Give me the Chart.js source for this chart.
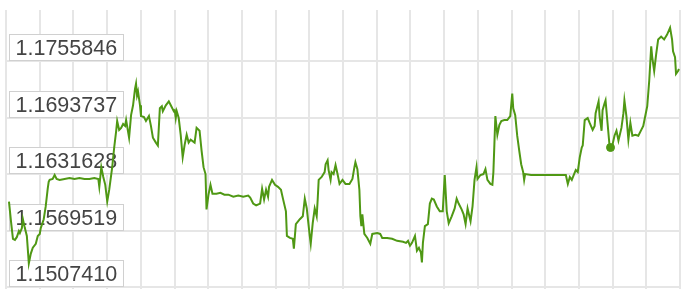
<!DOCTYPE html>
<html>
<head>
<meta charset="utf-8">
<script src="https://cdn.jsdelivr.net/npm/chart.js@4"></script>
<style>
  html, body { margin: 0; padding: 0; background: #fff; }
  #wrap { width: 685px; height: 294px; position: relative; }
</style>
</head>
<body>
<div id="wrap"><canvas id="chart"></canvas></div>
<script>
// price levels shown on the left
const yLabels = [1.1507410, 1.1569519, 1.1631628, 1.1693737, 1.1755846];

// time index (20 columns of 33.95) and price
const times = [
  3, 5, 7, 9, 11, 13, 14, 16, 17, 19,
  21, 23, 25, 27, 30, 32, 34, 35, 38, 40,
  42, 43, 44, 47, 49, 51, 54, 59, 64, 69,
  74, 79, 84, 89, 93, 94, 96, 98, 100, 102,
  104, 107, 109, 111, 112, 114, 116, 118, 120, 121,
  124, 126, 128, 130, 131, 132, 133, 135, 136, 139,
  141, 144, 146, 148, 151, 153, 155, 157, 158, 161,
  164, 166, 169, 170, 171, 172, 174, 176, 178, 180,
  182, 184, 186, 190, 192, 195, 197, 199, 201, 202,
  204, 206, 208, 212, 216, 220, 224, 229, 234, 239,
  244, 246, 249, 252, 256, 258, 260, 262, 264, 265,
  268, 271, 274, 277, 279, 282, 283, 286, 289, 290,
  292, 296, 299, 301, 303, 306, 307, 309, 311, 313,
  314, 315, 318, 321, 322, 324, 325, 327, 328, 330,
  332, 334, 336, 339, 342, 346, 349, 351, 352, 354,
  356, 357, 358, 359, 361, 364, 367, 369, 374, 377,
  379, 384, 389, 394, 400, 403, 405, 407, 409, 412,
  414, 416, 418, 419, 420, 422, 425, 427, 429, 431,
  434, 437, 440, 442, 444, 446, 449, 452, 454, 456,
  459, 461, 463, 465, 468, 470, 472, 474, 475, 478,
  481, 483, 485, 488, 490, 491, 492, 493, 495, 497,
  499, 502, 505, 508, 510, 511, 513, 515, 517, 519,
  521, 522, 523, 529, 539, 549, 559, 564, 566, 568,
  570, 572, 574, 576, 578, 580, 581, 583, 586, 588,
  591, 593, 594, 597, 598, 600, 601, 603, 604, 606,
  608, 609, 611, 613, 615, 617, 620, 622, 623, 625,
  627, 629, 631, 634, 637, 640, 642, 644, 646, 648,
  650, 651, 653, 655, 657, 660, 663, 666, 669, 671,
  672, 674, 675, 677, 678
];

const prices = [
  1.16014, 1.15798, 1.15604, 1.15593, 1.15625, 1.15690, 1.15668, 1.15722, 1.15820, 1.15722,
  1.15636, 1.15334, 1.15442, 1.15506, 1.15550, 1.15636, 1.15658, 1.15722, 1.15820, 1.15960,
  1.16154, 1.16230, 1.16252, 1.16262, 1.16306, 1.16262, 1.16252, 1.16262, 1.16273, 1.16262,
  1.16273, 1.16262, 1.16262, 1.16273, 1.16262, 1.16176, 1.16392, 1.16284, 1.16198, 1.16014,
  1.16144, 1.16392, 1.16608, 1.16792, 1.16900, 1.16802, 1.16824, 1.16867, 1.16846, 1.16910,
  1.16716, 1.16964, 1.17072, 1.17256, 1.17310, 1.17180, 1.17224, 1.17072, 1.16954, 1.16943,
  1.16900, 1.16954, 1.16846, 1.16716, 1.16662, 1.16630, 1.17040, 1.17062, 1.17008, 1.17072,
  1.17116, 1.17072, 1.17008, 1.17018, 1.16932, 1.17008, 1.16932, 1.16748, 1.16500, 1.16640,
  1.16748, 1.16662, 1.16694, 1.16662, 1.16824, 1.16792, 1.16576, 1.16392, 1.16316, 1.15928,
  1.16090, 1.16198, 1.16100, 1.16100, 1.16111, 1.16090, 1.16090, 1.16068, 1.16079, 1.16068,
  1.16079, 1.16057, 1.15992, 1.15971, 1.15992, 1.16154, 1.16036, 1.16144, 1.16068, 1.16176,
  1.16252, 1.16198, 1.16176, 1.16144, 1.16046, 1.15906, 1.15636, 1.15614, 1.15604, 1.15496,
  1.15766, 1.15820, 1.15852, 1.16046, 1.15938, 1.15636, 1.15550, 1.15776, 1.15938, 1.15852,
  1.16036, 1.16252, 1.16284, 1.16338, 1.16424, 1.16468, 1.16360, 1.16252, 1.16338, 1.16316,
  1.16414, 1.16316, 1.16208, 1.16252, 1.16208, 1.16208, 1.16262, 1.16392, 1.16446, 1.16370,
  1.16144, 1.15852, 1.15744, 1.15874, 1.15658, 1.15614, 1.15550, 1.15658, 1.15668, 1.15658,
  1.15614, 1.15614, 1.15604, 1.15582, 1.15571, 1.15560, 1.15582, 1.15528, 1.15560, 1.15636,
  1.15474, 1.15506, 1.15452, 1.15344, 1.15560, 1.15744, 1.15766, 1.15992, 1.16046, 1.16036,
  1.15960, 1.15906, 1.15906, 1.16306, 1.15906, 1.15776, 1.15852, 1.15938, 1.16046, 1.15992,
  1.15928, 1.15874, 1.15766, 1.15938, 1.15798, 1.15960, 1.16252, 1.16392, 1.16262, 1.16306,
  1.16316, 1.16370, 1.16252, 1.16208, 1.16198, 1.16338, 1.16640, 1.16954, 1.16748, 1.16856,
  1.16900, 1.16910, 1.16910, 1.16954, 1.17202, 1.17040, 1.16964, 1.16738, 1.16576, 1.16424,
  1.16338, 1.16252, 1.16316, 1.16306, 1.16306, 1.16306, 1.16306, 1.16306, 1.16208, 1.16284,
  1.16252, 1.16306, 1.16360, 1.16338, 1.16500, 1.16608, 1.16630, 1.16910, 1.16932, 1.16878,
  1.16802, 1.16846, 1.16986, 1.17116, 1.16954, 1.16792, 1.17018, 1.17094, 1.17126, 1.16878,
  1.16630, 1.16608, 1.16640, 1.16738, 1.16792, 1.16684, 1.16824, 1.16986, 1.17126, 1.16954,
  1.16694, 1.16878, 1.16738, 1.16748, 1.16738, 1.16802, 1.16846, 1.16954, 1.17062, 1.17342,
  1.17720, 1.17602, 1.17450, 1.17634, 1.17796, 1.17828, 1.17796, 1.17850, 1.17926, 1.17796,
  1.17666, 1.17602, 1.17418, 1.17450, 1.17472
];

// the highlighted point
const markTime = [609];
const markPrice = [1.16608];

const green = '#4f9814';
const step = 33.95;

let series = [];
for (let i = 0; i < times.length; i++)
  series.push({ x: times[i], y: prices[i] });

// white boxes with the price levels, under the line
const levelBoxes = {
  id: 'levelBoxes',
  beforeDatasetsDraw(chart) {
    const ctx = chart.ctx;
    const y = chart.scales.y;
    ctx.save();
    ctx.font = '21.5px "Liberation Sans", Arial, sans-serif';
    ctx.textBaseline = 'alphabetic';
    ctx.lineWidth = 1;
    for (const v of yLabels) {
      const py = Math.round(y.getPixelForValue(v));
      ctx.fillStyle = '#fff';
      ctx.fillRect(9.5, py - 26.5, 114, 26);
      ctx.strokeStyle = '#d0d0d0';
      ctx.strokeRect(9.5, py - 26.5, 114, 26);
      ctx.fillStyle = '#444';
      ctx.fillText(v.toFixed(7), 15.5, py - 6);
    }
    ctx.restore();
  }
};

new Chart(document.getElementById('chart'), {
  type: 'line',
  data: {
    datasets: [
      {
        data: series,
        borderColor: green,
        borderWidth: 2,
        pointRadius: 0,
        tension: 0,
        fill: false
      },
      {
        type: 'scatter',
        data: markTime.map((t, i) => ({ x: t, y: markPrice[i] })),
        backgroundColor: green,
        borderColor: green,
        pointRadius: 4
      }
    ]
  },
  options: {
    responsive: true,
    maintainAspectRatio: false,
    animation: false,
    layout: { padding: { left: 6, top: 10, right: 0, bottom: 0 } },
    plugins: { legend: { display: false }, tooltip: { enabled: false } },
    scales: {
      x: {
        type: 'linear',
        min: 0,
        max: 679,
        afterBuildTicks: (s) => {
          s.ticks = [];
          for (let k = 0; k <= 20; k++) s.ticks.push({ value: k * step });
        },
        ticks: { display: false },
        grid: { color: '#e6e6e6', lineWidth: 2, drawTicks: false },
        border: { display: false }
      },
      y: {
        min: 1.150525,
        max: 1.18120,
        afterBuildTicks: (s) => { s.ticks = yLabels.map(v => ({ value: v })); },
        ticks: { display: false },
        grid: { color: '#e6e6e6', lineWidth: 2, drawTicks: false },
        border: { display: false }
      }
    }
  },
  plugins: [levelBoxes]
});
</script>
</body>
</html>
